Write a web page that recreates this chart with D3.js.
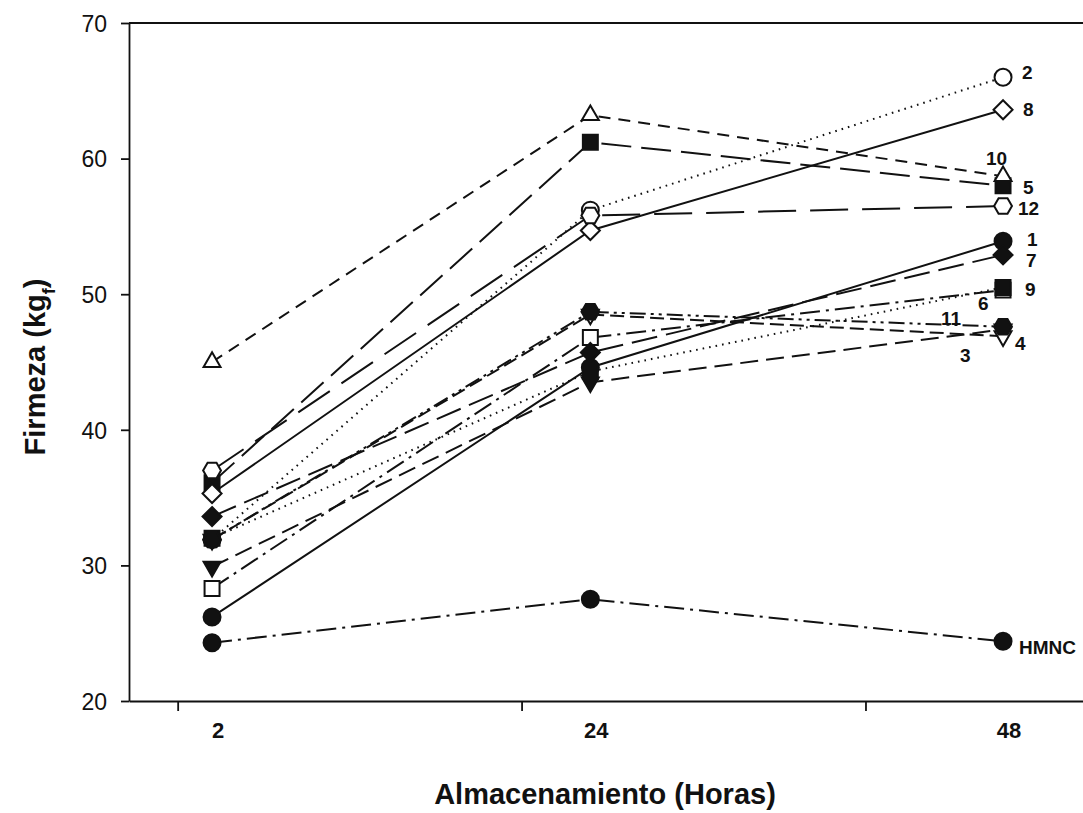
<!DOCTYPE html>
<html>
<head>
<meta charset="utf-8">
<script src="https://cdn.jsdelivr.net/npm/d3@7/dist/d3.min.js"></script>
<style>
  body { margin: 0; background: #fff; }
  text { font-family: "Liberation Sans", Arial, sans-serif; fill: #111; }
</style>
</head>
<body>
<svg id="chart" width="1083" height="813"></svg>
<script>
// Storage time (hours) and axis ticks
const hours = [2, 24, 48];
const hourTicks = [0, 20, 40];
const hourLabels = ["2", "24", "48"];
const firmezaTicks = [20, 30, 40, 50, 60, 70];

// Firmness (kgf) per treatment at 2, 24 and 48 h
const seriesNames = ["1", "2", "3", "4", "5", "6", "7", "8", "9", "10", "11", "12", "HMNC"];
const firmeza1  = [26.2, 44.6, 53.9];
const firmeza2  = [31.9, 56.2, 66.0];
const firmeza3  = [29.9, 43.5, 47.4];
const firmeza4  = [31.9, 48.5, 46.9];
const firmeza5  = [36.1, 61.2, 58.0];
const firmeza6  = [28.3, 46.8, 50.3];
const firmeza7  = [33.6, 45.7, 52.9];
const firmeza8  = [35.3, 54.7, 63.6];
const firmeza9  = [32.0, 44.3, 50.5];
const firmeza10 = [45.0, 63.2, 58.7];
const firmeza11 = [31.9, 48.7, 47.6];
const firmeza12 = [37.0, 55.8, 56.5];
const firmezaHMNC = [24.3, 27.5, 24.4];
const seriesValues = [firmeza1, firmeza2, firmeza3, firmeza4, firmeza5, firmeza6,
  firmeza7, firmeza8, firmeza9, firmeza10, firmeza11, firmeza12, firmezaHMNC];

// Symbol and line style per treatment
const symbolKinds = ["circle", "circle", "triDown", "triDown", "square", "square",
  "diamond", "diamond", "square", "triUp", "hexagon", "hexagon", "circle"];
const symbolFilled = [true, false, true, false, true, false, true, false, true, false, true, false, true];
const dashStyles = [null, "1.6,5", "18,8", "14,6", "30,10", "20,6,3,6", "26,9", null,
  "1.6,5", "12,8", "16,5,3,5,3,5", "38,14", "20,6,3,6"];

// End-label placement relative to the 48 h marker (dx, dy in px)
const labelOffsets = {
  "1": [24, -2], "2": [19, -5], "3": [-43, 26], "4": [12, 7], "5": [20, 1],
  "6": [-25, 13], "7": [23, 5], "8": [20, -1], "9": [22, 2], "10": [-17, -18],
  "11": [-62, -9], "12": [15, 2], "HMNC": [16, 6]
};

const svg = d3.select("#chart");
const x = d3.scaleLinear().domain([-2.83, 52.65]).range([129, 1083]);
const y = d3.scaleLinear().domain([20, 70]).range([701, 23]);

// Custom marker shapes; the size argument is used as the radius
const symbolTypes = {
  circle: { draw(c, r) { c.moveTo(r, 0); c.arc(0, 0, r, 0, 2 * Math.PI); } },
  square: { draw(c, r) { const h = r * 0.88; c.rect(-h, -h, 2 * h, 2 * h); } },
  diamond: { draw(c, r) { const h = r * 1.12; c.moveTo(0, -h); c.lineTo(h, 0); c.lineTo(0, h); c.lineTo(-h, 0); c.closePath(); } },
  triUp: { draw(c, r) { const h = r * 1.15; c.moveTo(0, -h); c.lineTo(h * 0.866, h / 2); c.lineTo(-h * 0.866, h / 2); c.closePath(); } },
  triDown: { draw(c, r) { const h = r * 1.15; c.moveTo(0, h); c.lineTo(h * 0.866, -h / 2); c.lineTo(-h * 0.866, -h / 2); c.closePath(); } },
  hexagon: { draw(c, r) { const h = r * 1.05; for (let i = 0; i < 6; i++) { const a = i * Math.PI / 3; i ? c.lineTo(h * Math.cos(a), h * Math.sin(a)) : c.moveTo(h * Math.cos(a), h * Math.sin(a)); } c.closePath(); } }
};

// Frame: top border line
svg.append("line")
  .attr("x1", x.range()[0]).attr("x2", 1083)
  .attr("y1", y(70)).attr("y2", y(70))
  .attr("stroke", "#111").attr("stroke-width", 1.8);

// Y axis
const yAxis = svg.append("g")
  .attr("transform", `translate(${x.range()[0]},0)`)
  .call(d3.axisLeft(y).tickValues(firmezaTicks).tickSize(8).tickSizeOuter(0).tickPadding(14));
yAxis.selectAll("text").style("font-size", "23px").attr("dy", "0.36em");

// X axis (unlabelled ticks)
svg.append("g")
  .attr("transform", `translate(0,${y(20)})`)
  .call(d3.axisBottom(x).tickValues(hourTicks).tickSize(10).tickSizeOuter(0).tickFormat(""));
svg.selectAll(".domain, .tick line").attr("stroke", "#111").attr("stroke-width", 1.8);

// X category labels at the measured hours
svg.append("g").selectAll("text").data(hours).join("text")
  .attr("x", d => x(d) + 6)
  .attr("y", y(20) + 37)
  .attr("text-anchor", "middle")
  .style("font-size", "22px").style("font-weight", "bold")
  .text((d, i) => hourLabels[i]);

// Axis titles
svg.append("text")
  .attr("x", 605).attr("y", 804)
  .attr("text-anchor", "middle")
  .style("font-size", "29px").style("font-weight", "bold")
  .text("Almacenamiento (Horas)");

const yTitle = svg.append("text")
  .attr("transform", "translate(45,367) rotate(-90)")
  .attr("text-anchor", "middle")
  .style("font-size", "29px").style("font-weight", "bold");
yTitle.append("tspan").text("Firmeza (kg");
yTitle.append("tspan").attr("baseline-shift", "sub").style("font-size", "18px").text("f");
yTitle.append("tspan").text(")");

// Series: line then markers, in drawing order
const line = d3.line().x((d, i) => x(hours[i])).y(d => y(d));
const plot = svg.append("g");
seriesValues.forEach((vals, s) => {
  const g = plot.append("g");
  g.append("path")
    .datum(vals)
    .attr("d", line)
    .attr("fill", "none")
    .attr("stroke", "#111")
    .attr("stroke-width", 2)
    .attr("stroke-dasharray", dashStyles[s]);
  const sym = d3.symbol().type(symbolTypes[symbolKinds[s]]).size(8.5);
  g.selectAll("path.m").data(vals).join("path")
    .attr("class", "m")
    .attr("transform", (d, i) => `translate(${x(hours[i])},${y(d)})`)
    .attr("d", sym)
    .attr("fill", symbolFilled[s] ? "#111" : "#fff")
    .attr("stroke", "#111")
    .attr("stroke-width", 2);
});

// End labels
svg.append("g").selectAll("text").data(seriesNames).join("text")
  .attr("x", d => x(hours[2]) + labelOffsets[d][0])
  .attr("y", (d, s) => y(seriesValues[s][2]) + labelOffsets[d][1])
  .attr("dy", "0.36em")
  .style("font-size", "19px").style("font-weight", "bold")
  .text(d => d);
</script>
</body>
</html>
